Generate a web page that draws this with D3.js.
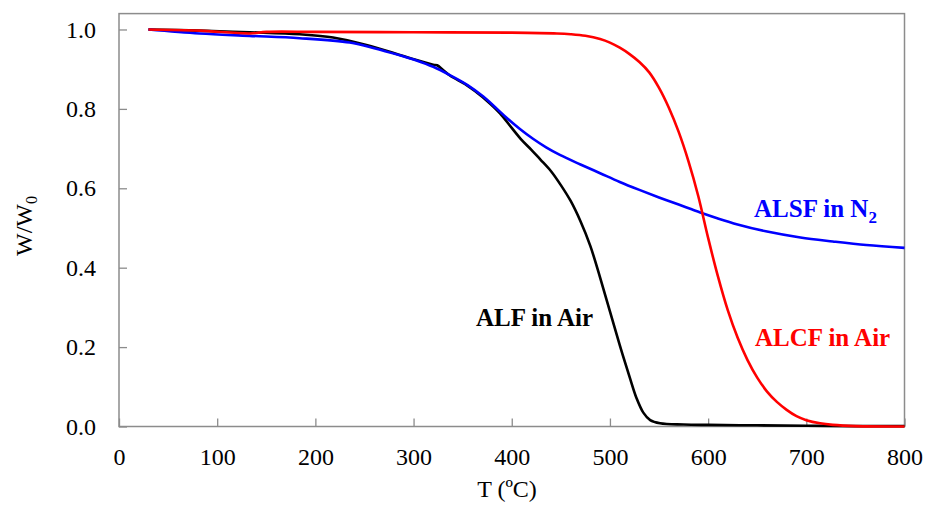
<!DOCTYPE html>
<html>
<head>
<meta charset="utf-8">
<script src="https://cdn.jsdelivr.net/npm/d3@7"></script>
<style>
  html, body { margin: 0; padding: 0; background: #fff; }
  svg { display: block; }
  svg text { font-family: "Liberation Serif", "Times New Roman", serif; }
</style>
</head>
<body>
<svg id="chart" width="926" height="520"></svg>
<script>
// Thermogravimetric curves: residual mass fraction W/W0 versus temperature
const alfT = [30, 82, 133, 184, 218, 252, 286, 303, 320, 324, 330, 337, 354, 365, 374, 388, 400, 410, 420, 429, 440, 450, 460, 470, 480, 490, 500, 510, 520, 527, 534, 541, 551, 575, 600, 650, 700, 750, 800];
const alfW = [1.0, 0.997, 0.993, 0.988, 0.980, 0.961, 0.936, 0.923, 0.911, 0.910, 0.898, 0.884, 0.860, 0.840, 0.822, 0.789, 0.752, 0.722, 0.697, 0.673, 0.643, 0.608, 0.568, 0.517, 0.455, 0.375, 0.290, 0.205, 0.125, 0.072, 0.035, 0.016, 0.008, 0.005, 0.004, 0.003, 0.002, 0.001, 0.001];

const alsfT = [30, 82, 133, 184, 235, 260, 286, 303, 320, 337, 355, 371, 385, 395, 408, 422, 435, 449, 470, 490, 510, 530, 550, 570, 592, 610, 630, 660, 694, 727, 761, 800];
const alsfW = [1.0, 0.990, 0.984, 0.978, 0.967, 0.953, 0.935, 0.922, 0.906, 0.885, 0.860, 0.831, 0.800, 0.777, 0.750, 0.724, 0.703, 0.684, 0.660, 0.638, 0.616, 0.596, 0.577, 0.559, 0.539, 0.524, 0.509, 0.491, 0.476, 0.466, 0.457, 0.450];

const alcfT = [30, 82, 133, 150, 200, 300, 400, 446, 460, 475, 490, 500, 510, 520, 530, 540, 550, 560, 570, 580, 590, 600, 610, 620, 630, 640, 650, 660, 670, 680, 690, 700, 714, 727, 750, 800];
const alcfW = [1.0, 0.997, 0.990, 0.994, 0.994, 0.993, 0.992, 0.990, 0.988, 0.984, 0.976, 0.967, 0.954, 0.938, 0.918, 0.892, 0.853, 0.803, 0.742, 0.668, 0.580, 0.475, 0.378, 0.293, 0.224, 0.168, 0.123, 0.088, 0.062, 0.042, 0.026, 0.016, 0.008, 0.004, 0.001, 0.0];

const xTicks = [0, 100, 200, 300, 400, 500, 600, 700, 800];
const yTicks = [0.0, 0.2, 0.4, 0.6, 0.8, 1.0];

const series = [
  { name: "ALF in Air", T: alfT, W: alfW, color: "#000000" },
  { name: "ALSF in N2", T: alsfT, W: alsfW, color: "#0000ff" },
  { name: "ALCF in Air", T: alcfT, W: alcfW, color: "#ff0000" }
];

const serif = '"Liberation Serif", "Times New Roman", serif';
const svg = d3.select("#chart");
const left = 119, right = 904.5, bottom = 426.5;

const x = d3.scaleLinear().domain([0, 800]).range([left, right]);
const y = d3.scaleLinear().domain([0, 1.04]).range([bottom, 13.6]);

const axisColor = "#8c8c8c";

// plot frame
svg.append("rect")
  .attr("x", left).attr("y", y(1.04))
  .attr("width", right - left).attr("height", bottom - y(1.04))
  .attr("fill", "none").attr("stroke", axisColor).attr("stroke-width", 1.5);

// axes with inward ticks
const gx = svg.append("g").attr("transform", `translate(0,${bottom})`)
  .call(d3.axisBottom(x).tickValues(xTicks).tickSize(-8).tickPadding(21).tickFormat(d3.format("d")));
const gy = svg.append("g").attr("transform", `translate(${left},0)`)
  .call(d3.axisLeft(y).tickValues(yTicks).tickSize(-8).tickPadding(23).tickFormat(d3.format(".1f")));

[gx, gy].forEach(g => {
  g.attr("font-family", serif).attr("font-size", 24);
  g.select(".domain").remove();
  g.selectAll(".tick line").attr("stroke", axisColor).attr("stroke-width", 1.3);
  g.selectAll(".tick text").attr("fill", "#000");
});

// curves
const line = d3.line()
  .x(d => x(d[0]))
  .y(d => y(d[1]))
  .curve(d3.curveCatmullRom.alpha(0.5));

series.forEach(s => {
  const pts = s.T.map((t, i) => [t, s.W[i]]);
  svg.append("path")
    .datum(pts)
    .attr("d", line)
    .attr("fill", "none")
    .attr("stroke", s.color)
    .attr("stroke-width", 2.6)
    .attr("stroke-linejoin", "round");
});

// series labels
const lab = (xp, yp, color) => svg.append("text")
  .attr("x", xp).attr("y", yp)
  .attr("fill", color)
  .attr("font-family", serif)
  .attr("font-weight", "bold")
  .attr("font-size", 25);

const l1 = lab(754, 217, "#0000ff");
l1.append("tspan").text("ALSF in N");
l1.append("tspan").attr("dy", 6).attr("font-size", 17).text("2");

lab(476, 326, "#000000").text("ALF in Air");
lab(755, 346, "#ff0000").text("ALCF in Air");

// axis titles
svg.append("text")
  .attr("x", 507).attr("y", 497)
  .attr("text-anchor", "middle")
  .attr("font-family", serif)
  .attr("font-size", 24)
  .text("T (ºC)");

const yt = svg.append("text")
  .attr("transform", "translate(32,226) rotate(-90)")
  .attr("text-anchor", "middle")
  .attr("font-family", serif)
  .attr("font-size", 24);
yt.append("tspan").text("W/W");
yt.append("tspan").attr("dy", 5).attr("font-size", 16).text("0");
</script>
</body>
</html>
